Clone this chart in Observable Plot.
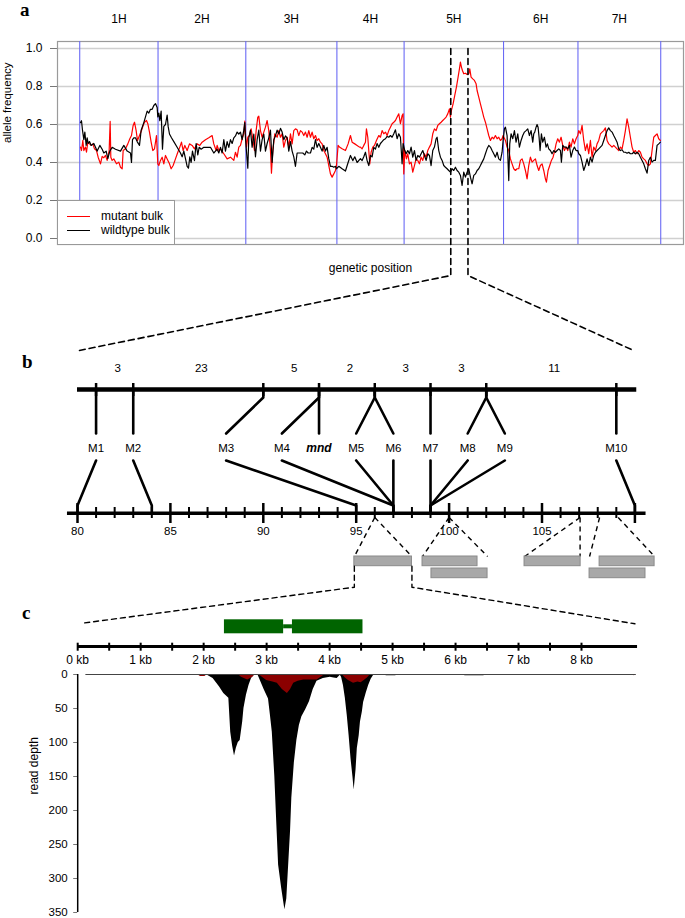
<!DOCTYPE html>
<html><head><meta charset="utf-8">
<script src="https://cdn.jsdelivr.net/npm/d3@7"></script>
<script src="https://cdn.jsdelivr.net/npm/@observablehq/plot@0.6"></script>
<style>
body{margin:0;background:#fff;}
#fig{position:relative;width:685px;height:918px;font-family:"Liberation Sans",Arial,sans-serif;color:#000;overflow:hidden;}
#fig svg{position:absolute;left:0;overflow:visible;}
.plab{position:absolute;font-family:"Liberation Serif","DejaVu Serif",serif;font-weight:bold;font-size:19px;line-height:19px;}
#legend{position:absolute;left:57px;top:200px;width:118px;height:45px;border:1px solid #999;background:#fff;box-sizing:border-box;font-size:12px;}
#legend .sw{position:absolute;left:9px;width:23px;height:0;}
#legend .lt{position:absolute;left:43px;line-height:14px;white-space:nowrap;}
#fig g[aria-label="y-axis tick"] path,#fig g[aria-label="y-axis"] line{stroke:#777;}
</style></head><body><div id="fig"></div>
<script>
// ---------- panel a data ----------
const chromNames = ["1H","2H","3H","4H","5H","6H","7H"];
const chromLengths = [141,158,164,121,179,134,149]; // cM
const freqTicks = [0,0.2,0.4,0.6,0.8,1.0];
const mutantBulk = [
[1.4,.481],[3.2,.463],[5.6,.516],[7.4,.463],[10.4,.481],[12.2,.454],[14.6,.507],[17.6,.498],[20.6,.490],[23.6,.498],[26.6,.472],[30.2,.463],[33.2,.428],[37.4,.393],[40.4,.432],[43.4,.425],[46.4,.437],[49.4,.411],[53.0,.463],[54.8,.616],[56.0,.428],[58.4,.411],[61.4,.419],[66.2,.393],[70.4,.402],[73.4,.375],[76.4,.367],[78.2,.463],[82.4,.472],[86.6,.498],[90.2,.525],[93.2,.542],[96.2,.595],[98.6,.612],[101.6,.568],[104.0,.516],[107.6,.542],[111.2,.568],[114.2,.595],[116.6,.612],[120.2,.621],[122.6,.604],[125.6,.560],[128.6,.507],[131.6,.463],[134.6,.472],[138.2,.542],[140.6,.393],
[142.4,.384],[145.4,.411],[148.4,.428],[151.4,.393],[154.4,.437],[157.4,.419],[161.6,.393],[164.6,.367],[168.2,.384],[172.4,.419],[176.6,.454],[180.2,.481],[183.2,.507],[186.2,.463],[189.2,.490],[193.4,.463],[197.6,.498],[202.4,.490],[206.6,.472],[211.4,.498],[216.2,.490],[220.4,.507],[226.4,.520],[232.4,.530],[238.4,.542],[241.4,.498],[245.6,.463],[247.4,.490],[250.4,.463],[253.4,.472],[259.4,.446],[265.4,.419],[271.4,.428],[277.4,.411],[280.4,.454],[283.4,.428],[286.4,.481],[289.4,.490],[292.4,.525],[295.4,.551],[297.2,.618],[298.4,.551],
[300.2,.481],[302.6,.533],[305.6,.542],[308.6,.577],[311.6,.525],[314.6,.463],[317.6,.568],[320.6,.639],[322.4,.644],[325.4,.568],[328.4,.533],[331.4,.560],[334.4,.586],[337.4,.621],[340.4,.568],[343.4,.463],[345.2,.344],[347.6,.463],[351.2,.551],[355.4,.533],[358.4,.568],[361.4,.533],[364.4,.551],[367.4,.481],[370.4,.516],[373.4,.533],[376.4,.481],[379.4,.551],[382.4,.498],[385.4,.568],[388.4,.577],[391.4,.572],[394.4,.542],[397.4,.568],[400.4,.560],[403.4,.542],[406.4,.560],[409.4,.533],[412.4,.568],[415.4,.533],[418.4,.560],[421.4,.525],[424.4,.542],[427.4,.516],[430.4,.525],[433.4,.507],[436.4,.498],[439.4,.463],[442.4,.446],[445.4,.428],[448.4,.384],[451.4,.340],[454.4,.323],[457.4,.340],[460.4,.358],[462.2,.384],
[465.2,.490],[467.6,.481],[472.4,.472],[478.4,.463],[483.2,.498],[487.4,.542],[490.4,.507],[495.2,.498],[499.4,.490],[503.6,.481],[505.4,.481],[508.4,.472],[511.4,.490],[514.4,.507],[516.2,.577],[518.6,.533],[520.4,.463],[522.2,.393],[524.6,.454],[527.6,.481],[530.6,.490],[534.2,.516],[538.4,.542],[541.4,.533],[544.4,.568],[547.4,.551],[550.4,.560],[553.4,.542],[556.4,.568],[559.4,.586],[562.4,.604],[565.4,.612],[568.4,.621],[571.4,.639],[574.4,.656],[577.4,.604],[580.4,.647],[582.2,.656],[583.4,.340],
[585.2,.463],[588.2,.419],[590.6,.446],[593.6,.393],[596.6,.402],[599.6,.349],[602.6,.384],[605.6,.419],[608.6,.411],[611.6,.393],[614.6,.428],[617.6,.411],[620.6,.446],[623.6,.428],[626.6,.463],[629.6,.481],[632.6,.498],[635.6,.551],[638.6,.577],[641.6,.568],[644.6,.595],[647.6,.604],[650.6,.612],[653.6,.621],[656.6,.630],[659.6,.639],[662.6,.656],[665.6,.682],[667.4,.639],[669.2,.674],[672.2,.709],[675.2,.753],[678.2,.797],[681.2,.849],[683.6,.893],[685.4,.928],[687.2,.902],[689.0,.884],[691.4,.867],[694.4,.870],[697.4,.863],[700.4,.867],[702.2,.893],[704.6,.849],[707.6,.840],[710.6,.832],[713.6,.814],[715.4,.779],[718.4,.744],[721.4,.709],[724.4,.674],[727.4,.639],[730.4,.612],[733.4,.577],[736.4,.542],[739.4,.516],[742.4,.533],[745.4,.525],[748.4,.542],[751.4,.525],[754.4,.533],[757.4,.516],[760.4,.525],[762.2,.542],
[766.4,.516],[769.4,.481],[772.4,.463],[775.4,.419],[778.4,.393],[781.4,.367],[784.4,.358],[787.4,.367],[790.4,.367],[793.4,.411],[796.4,.419],[799.4,.393],[802.4,.358],[805.4,.314],[808.4,.384],[811.4,.428],[814.4,.402],[817.4,.411],[820.4,.419],[823.4,.384],[826.4,.358],[829.4,.384],[832.4,.393],[835.4,.358],[838.4,.314],[840.2,.297],[843.2,.358],[846.2,.384],[849.2,.411],[852.2,.428],[855.2,.463],[857.6,.498],[860.6,.525],[863.6,.507],[866.6,.533],[869.6,.490],[872.6,.463],[875.6,.481],[878.6,.463],[881.6,.507],[884.6,.481],[887.6,.525],[890.6,.498],[893.6,.525],[896.6,.542],
[898.4,.568],[901.4,.551],[904.4,.595],[907.4,.516],[910.4,.463],[913.4,.498],[916.4,.446],[919.4,.516],[922.4,.428],[925.4,.481],[928.4,.463],[931.4,.498],[934.4,.516],[937.4,.551],[940.4,.560],[943.4,.568],[946.4,.582],[949.4,.516],[952.4,.498],[955.4,.490],[958.4,.481],[961.4,.490],[964.4,.481],[967.4,.472],[970.4,.463],[973.4,.481],[976.4,.472],[979.4,.516],[982.4,.568],[985.4,.630],[988.4,.586],[991.4,.533],[994.4,.481],[997.4,.454],[1000.4,.463],[1003.4,.446],[1006.4,.463],[1009.4,.454],[1012.4,.428],[1015.4,.419],[1018.4,.411],[1021.4,.393],[1024.4,.384],[1027.4,.393],[1030.4,.463],[1033.4,.533],[1036.4,.542],[1039.4,.551],[1042.4,.525],[1045.4,.516]
];
const wildtypeBulk = [
[1.4,.61],[3.2,.62],[5.0,.57],[7.4,.52],[9.2,.56],[11.6,.49],[13.4,.53],[15.2,.50],[17.6,.51],[20.6,.49],[25.4,.50],[28.4,.48],[31.4,.46],[36.2,.49],[40.4,.47],[43.4,.45],[47.6,.46],[50.6,.42],[54.2,.46],[58.4,.48],[64.4,.47],[73.4,.46],[79.4,.49],[85.4,.46],[91.4,.45],[93.2,.40],[95.0,.52],[97.4,.53],[100.4,.53],[103.4,.51],[107.6,.49],[110.6,.57],[115.4,.61],[118.4,.64],[121.4,.67],[124.4,.66],[127.4,.68],[130.4,.68],[133.4,.70],[136.4,.71],[139.4,.69],[140.6,.64],
[142.4,.66],[144.2,.62],[146.6,.67],[149.0,.47],[151.4,.59],[154.4,.60],[157.4,.65],[159.2,.59],[161.6,.55],[165.2,.53],[169.4,.51],[175.4,.48],[181.4,.45],[184.4,.43],[187.4,.46],[190.4,.42],[193.4,.38],[195.8,.37],[198.2,.43],[200.6,.40],[203.0,.46],[206.6,.41],[209.6,.50],[212.6,.44],[215.0,.48],[218.6,.47],[223.4,.48],[235.4,.48],[241.4,.45],
[244.4,.46],[247.4,.47],[250.4,.45],[253.4,.48],[256.4,.45],[259.4,.52],[262.4,.46],[265.4,.51],[268.4,.48],[271.4,.52],[274.4,.50],[277.4,.53],[280.4,.54],[283.4,.56],[286.4,.55],[289.4,.56],[292.4,.52],[295.4,.57],[297.2,.61],[298.4,.53],
[300.2,.46],[302.6,.37],[304.4,.53],[307.4,.57],[310.4,.48],[313.4,.55],[316.4,.43],[319.4,.52],[322.4,.57],[325.4,.46],[328.4,.52],[331.4,.55],[334.4,.46],[337.4,.50],[340.4,.53],[343.4,.57],[346.4,.40],[349.4,.52],[352.4,.54],[355.4,.57],[358.4,.55],[361.4,.58],[364.4,.56],[367.4,.52],[370.4,.54],[373.4,.53],[376.4,.46],[379.4,.51],[382.4,.46],[385.4,.43],[388.4,.38],[391.4,.45],[394.4,.45],[397.4,.45],[401.6,.45],[405.2,.44],[408.2,.46],[411.2,.45],[415.4,.45],[418.4,.48],[421.4,.47],[424.4,.52],[427.4,.48],[430.4,.50],[433.4,.48],[436.4,.46],[439.4,.49],[442.4,.46],[445.4,.48],[448.4,.42],[451.4,.38],[454.4,.38],[457.4,.375],[460.4,.38],[462.2,.367],
[466.4,.38],[472.4,.367],[478.4,.355],[483.2,.40],[487.4,.437],[491.6,.41],[495.2,.43],[499.4,.40],[505.4,.42],[508.4,.41],[511.4,.43],[514.4,.454],[517.4,.41],[520.4,.384],[523.4,.437],[526.4,.43],[529.4,.48],[532.4,.47],[535.4,.50],[538.4,.48],[541.4,.50],[544.4,.51],[547.4,.52],[550.4,.525],[553.4,.537],[556.4,.533],[559.4,.542],[562.4,.533],[565.4,.551],[568.4,.572],[571.4,.525],[574.4,.551],[577.4,.533],[580.4,.393],[582.2,.50],
[585.2,.463],[587.6,.446],[590.6,.463],[593.6,.446],[596.6,.481],[599.6,.428],[602.6,.463],[605.6,.411],[608.6,.437],[611.6,.428],[614.6,.446],[617.6,.463],[620.6,.437],[623.6,.411],[626.6,.446],[629.6,.437],[632.6,.384],[635.6,.463],[638.6,.481],[641.6,.525],[643.4,.533],[646.4,.463],[649.4,.428],[652.4,.411],[655.4,.384],[658.4,.375],[661.4,.367],[664.4,.358],[667.4,.349],[670.4,.367],[673.4,.358],[676.4,.375],[679.4,.358],[682.4,.349],[685.4,.332],[688.4,.279],[691.4,.349],[694.4,.323],[697.4,.349],[700.4,.367],[703.4,.323],[706.4,.288],[709.4,.332],[712.4,.340],[715.4,.358],[718.4,.367],[721.4,.384],[724.4,.402],[727.4,.419],[730.4,.446],[733.4,.472],[736.4,.490],[739.4,.481],[742.4,.463],[745.4,.446],[748.4,.428],[751.4,.454],[754.4,.419],[757.4,.411],[760.4,.454],[762.2,.516],
[764.6,.577],[766.4,.586],[769.4,.542],[772.4,.305],[774.2,.498],[776.6,.551],[779.6,.525],[782.6,.568],[785.6,.507],[788.6,.551],[791.6,.481],[794.6,.516],[797.6,.542],[800.6,.560],[803.6,.568],[806.6,.577],[809.6,.542],[812.6,.568],[815.6,.507],[817.4,.551],[819.2,.560],[821.6,.586],[823.4,.600],[825.2,.586],[827.0,.533],[828.8,.463],[831.2,.551],[833.6,.507],[836.6,.533],[839.6,.481],[842.0,.498],[844.4,.472],[847.4,.463],[850.4,.446],[853.4,.463],[856.4,.454],[859.4,.463],[862.4,.472],[865.4,.463],[867.2,.402],[869.6,.490],[872.6,.481],[875.6,.481],[878.6,.472],[881.6,.490],[884.6,.428],[887.6,.463],[890.6,.481],[893.6,.463],[896.6,.463],
[898.4,.446],[901.4,.437],[904.4,.402],[907.4,.358],[910.4,.384],[913.4,.419],[916.4,.384],[919.4,.428],[922.4,.402],[925.4,.437],[928.4,.454],[931.4,.463],[934.4,.472],[937.4,.481],[940.4,.490],[943.4,.516],[946.4,.542],[949.4,.568],[952.4,.582],[955.4,.568],[958.4,.560],[961.4,.542],[964.4,.525],[967.4,.507],[970.4,.472],[973.4,.463],[976.4,.467],[979.4,.454],[982.4,.454],[985.4,.449],[988.4,.454],[991.4,.446],[994.4,.446],[997.4,.454],[1000.4,.446],[1003.4,.454],[1006.4,.446],[1009.4,.428],[1012.4,.411],[1015.4,.393],[1018.4,.367],[1021.4,.344],[1024.4,.411],[1027.4,.428],[1030.4,.402],[1033.4,.411],[1036.4,.411],[1039.4,.490],[1042.4,.498],[1045.4,.507]
];
const zoomInterval = [668, 699]; // genome cM of dashed region on 5H

// ---------- panel b data ----------
const recombCounts = [3,23,5,2,3,3,11];
const topBarLoci = [81,83,90,93,96,99,102,109];
const markerNames = ["M1","M2","M3","M4","mnd","M5","M6","M7","M8","M9","M10"];
const markerLabelPos = [81,83,88,91,93,95,97,99,101,103,109];
const markerTopPos   = [81,83,90,93,93,96,96,99,102,102,109];
const markerMapPos   = [80,84,95,97,null,97,97,99,99,99,110]; // cM
const mapTickLabels = [80,85,90,95,100,105];
const bacClones = [
  {x1:94.9, x2:98.0, row:0}, {x1:98.57, x2:101.53, row:0}, {x1:104.06, x2:107.08, row:0},
  {x1:108.1, x2:111.06, row:0}, {x1:99.05, x2:102.07, row:1}, {x1:107.56, x2:110.57, row:1}
];
const cloneLinks = [[96,94.9],[96,98.0],[100,98.57],[100,102.07],[107.05,104.06],[107.05,107.05],[108.1,107.56],[109.1,111.06]];

// ---------- panel c data ----------
const kbTicks = [0,1,2,3,4,5,6,7,8];
const geneExons = [[2.33,3.27],[3.41,4.53]];
const geneIntron = [3.27,3.41];
const depthTotal = [
[0.13,0],[2.0,0],[2.06,1],[2.15,6],[2.25,18],[2.32,28],[2.40,35],[2.43,85],[2.46,105],[2.49,120],[2.52,108],[2.55,100],[2.58,97],[2.62,70],[2.64,50],[2.68,30],[2.72,16],[2.76,6],[2.80,1.5],[2.83,0],[2.86,0],[2.90,9],[2.96,22],[3.03,36],[3.06,60],[3.09,85],[3.13,150],[3.16,216],[3.19,280],[3.24,315],[3.29,346],[3.32,330],[3.35,280],[3.38,230],[3.40,182],[3.44,130],[3.48,97],[3.52,75],[3.56,62],[3.62,52],[3.68,40],[3.74,22],[3.80,10],[3.90,6],[4.01,4],[4.07,5],[4.12,6],[4.17,1],[4.19,4],[4.22,16],[4.25,35],[4.28,60],[4.31,90],[4.34,124],[4.37,150],[4.39,170],[4.42,140],[4.44,109],[4.47,90],[4.49,70],[4.52,55],[4.54,41],[4.58,28],[4.62,16],[4.66,7],[4.70,1],[4.75,0],[4.88,0],[4.9,2],[5.05,2],[5.08,0],[6.12,0],[6.15,2],[6.45,2],[6.48,0],[8.87,0]
];
const depthMutant = [
[0.13,0],[1.9,0],[1.95,3],[2.02,3],[2.06,0],[2.55,0],[2.6,4],[2.7,8],[2.78,4],[2.82,0],[2.9,2],[3.0,9],[3.1,11],[3.17,13],[3.25,22],[3.33,28],[3.38,22],[3.43,13],[3.5,10],[3.59,8],[3.7,8],[3.8,8],[3.9,2],[3.95,0],[4.2,0],[4.25,5],[4.3,9],[4.38,13],[4.45,11],[4.5,12],[4.55,9],[4.6,5],[4.65,0],[8.8,0],[8.84,2],[8.87,0]
];
const depthTicks = [0,50,100,150,200,250,300,350];

// ---------- layout ----------
const font = '"Liberation Sans", Arial, sans-serif';
const baseStyle = {background:"transparent", overflow:"visible", fontFamily:font, fontSize:"12px", color:"#000"};
const fig = document.getElementById("fig");
function place(el, top){ el.style.position="absolute"; el.style.top=top+"px"; el.style.left="0px"; fig.appendChild(el); }

// panel a
const bounds = d3.cumsum([0, ...chromLengths]);
const chromMid = chromNames.map((n,i)=>({name:n, x: bounds[i] + chromLengths[i]/2}));
const connA = [
  {x:zoomInterval[0], y:1.0, z:"l"}, {x:zoomInterval[0], y:-0.195, z:"l"}, {x:-0.4, y:-0.589, z:"l"},
  {x:zoomInterval[1], y:1.0, z:"r"}, {x:zoomInterval[1], y:-0.195, z:"r"}, {x:993, y:-0.584, z:"r"}
];
const A = Plot.plot({
  width:685, height:350, marginTop:41, marginBottom:106, marginLeft:57, marginRight:2,
  style: baseStyle,
  x:{domain:[-40,1087], range:[57,683], axis:null},
  y:{domain:[0,1], range:[238,48], ticks:freqTicks, tickFormat:".1f", tickSize:7, tickPadding:8, label:null},
  marks:[
    Plot.ruleY(freqTicks, {stroke:"#d0d0d0", strokeWidth:1.3}),
    Plot.frame({stroke:"#9a9a9a", strokeWidth:1.2}),
    Plot.ruleX(bounds, {stroke:"#6a6af5", strokeWidth:1.1}),
    Plot.line(mutantBulk, {x:d=>d[0], y:d=>d[1], stroke:"#ff0000", strokeWidth:1.2}),
    Plot.line(wildtypeBulk, {x:d=>d[0], y:d=>d[1], stroke:"#000", strokeWidth:1.2}),
    Plot.line(connA, {x:"x", y:"y", z:"z", stroke:"#000", strokeWidth:1.6, strokeDasharray:"6,4"}),
    Plot.text(chromMid, {x:"x", y:1.153, text:"name", fontSize:12, lineAnchor:"middle"}),
    Plot.text(["genetic position"], {x:523.5, y:-0.158, fontSize:12, lineAnchor:"middle"}),
    Plot.text(["allele frequency"], {frameAnchor:"left", rotate:-90, dx:-50, fontSize:11.5})
  ]
});
place(A, 0);

// legend (HTML overlay)
const leg = document.createElement("div");
leg.id = "legend";
leg.innerHTML = '<div class="sw" style="top:14.5px;border-top:1.5px solid #ff0000"></div><div class="lt" style="top:7.5px">mutant bulk</div>' +
                '<div class="sw" style="top:28.5px;border-top:1.5px solid #000"></div><div class="lt" style="top:21.5px">wildtype bulk</div>';
fig.appendChild(leg);

// panel b
const Lb = {counts:18, topBar:39, tickTop:33, tickBot:46, step:47, linkTop:83, label:97.7, linkBot:110,
            mapLink:155, mapBar:162.7, majTop:153, majBot:173, minTop:157, minBot:168, tickLab:180.7,
            dashTop:167, rowTop:[206,218], rowH:9.7, dropEnd:236.7, diagEnd:272.7};
const topLinks = [], botLinks = [];
markerNames.forEach((m,i)=>{
  topLinks.push({x:markerTopPos[i], y:Lb.topBar, z:m}, {x:markerTopPos[i], y:Lb.step, z:m}, {x:markerLabelPos[i], y:Lb.linkTop, z:m});
  if (markerMapPos[i] != null)
    botLinks.push({x:markerLabelPos[i], y:Lb.linkBot, z:m}, {x:markerMapPos[i], y:Lb.mapLink, z:m}, {x:markerMapPos[i], y:Lb.mapBar, z:m});
});
const countPos = recombCounts.map((c,i)=>({c, x:(topBarLoci[i]+topBarLoci[i+1])/2}));
const cmTicks = d3.range(80,111);
const dropLines = [
  {x:bacClones[0].x1, y:Lb.rowTop[0]+Lb.rowH, z:"l"}, {x:bacClones[0].x1, y:Lb.dropEnd, z:"l"}, {x:80.25, y:Lb.diagEnd, z:"l"},
  {x:bacClones[0].x2, y:Lb.rowTop[0]+Lb.rowH, z:"r"}, {x:bacClones[0].x2, y:Lb.dropEnd, z:"r"}, {x:110, y:Lb.diagEnd+0.6, z:"r"}
];
const B = Plot.plot({
  width:685, height:240, margin:0,
  style: baseStyle,
  x:{domain:[80,110], range:[77,634.4], axis:null},
  y:{domain:[0,240], range:[0,240], axis:null},
  marks:[
    Plot.text(countPos, {x:"x", y:Lb.counts, text:"c", dx:3, fontSize:11.5, lineAnchor:"middle"}),
    Plot.ruleY([Lb.topBar], {x1:80, x2:110.1, strokeWidth:4.5}),
    Plot.ruleX(topBarLoci, {y1:Lb.tickTop, y2:Lb.tickBot, strokeWidth:2.5}),
    Plot.line(topLinks, {x:"x", y:"y", z:"z", strokeWidth:2.6}),
    Plot.text(markerNames.map((m,i)=>({m,x:markerLabelPos[i]})).filter(d=>d.m!=="mnd"), {x:"x", y:Lb.label, text:"m", fontSize:11.5, lineAnchor:"middle"}),
    Plot.text([{m:"mnd", x:markerLabelPos[4]}], {x:"x", y:Lb.label, text:"m", fontSize:12, fontWeight:"bold", fontStyle:"italic", lineAnchor:"middle"}),
    Plot.line(botLinks, {x:"x", y:"y", z:"z", strokeWidth:2.6}),
    Plot.ruleY([Lb.mapBar], {x1:79.46, x2:110.6, strokeWidth:3.5}),
    Plot.ruleX(cmTicks.filter(d=>d%5===0), {y1:Lb.majTop, y2:Lb.majBot, strokeWidth:2.5}),
    Plot.ruleX(cmTicks.filter(d=>d%5!==0), {y1:Lb.minTop, y2:Lb.minBot, strokeWidth:2}),
    Plot.text(mapTickLabels, {x:d=>d, y:Lb.tickLab, text:d=>String(d), fontSize:11.5, lineAnchor:"middle"}),
    Plot.link(cloneLinks, {x1:d=>d[0], x2:d=>d[1], y1:Lb.dashTop, y2:Lb.rowTop[0], stroke:"#000", strokeWidth:1.4, strokeDasharray:"5,4"}),
    Plot.rect(bacClones, {x1:"x1", x2:"x2", y1:d=>Lb.rowTop[d.row], y2:d=>Lb.rowTop[d.row]+Lb.rowH, fill:"#a8a8a8", stroke:"#8a8a8a", strokeWidth:1}),
    Plot.line(dropLines, {x:"x", y:"y", z:"z", stroke:"#000", strokeWidth:1.4, strokeDasharray:"5,4"})
  ]
});
place(B, 350);

// panel c (gene model + kb axis)
const Lc = {exTop:29.3, exBot:43.3, inTop:34.3, inBot:38.3, bar:56, tTop:52.7, tBot:60.7, lab:70};
const C1 = Plot.plot({
  width:685, height:80, margin:0,
  style: baseStyle,
  x:{domain:[0,8], range:[77.2,581], axis:null},
  y:{domain:[0,80], range:[0,80], axis:null},
  marks:[
    Plot.rect(geneExons, {x1:d=>d[0], x2:d=>d[1], y1:Lc.exTop, y2:Lc.exBot, fill:"#006400"}),
    Plot.rect([geneIntron], {x1:d=>d[0], x2:d=>d[1], y1:Lc.inTop, y2:Lc.inBot, fill:"#006400"}),
    Plot.ruleY([Lc.bar], {x1:0, x2:8.89, strokeWidth:3}),
    Plot.ruleX(d3.range(0,8.01,0.5), {y1:Lc.tTop, y2:Lc.tBot, strokeWidth:2}),
    Plot.text(kbTicks, {x:d=>d, y:Lc.lab, text:d=>d+" kb", fontSize:12, lineAnchor:"middle"})
  ]
});
place(C1, 590);

// panel c (read depth)
const C2 = Plot.plot({
  width:685, height:248, marginTop:0, marginBottom:0, marginLeft:77.2, marginRight:0,
  style: {...baseStyle, fontSize:"11.5px"},
  x:{domain:[0,8], range:[77.2,581], axis:null},
  y:{domain:[0,350], range:[4,242], ticks:depthTicks, tickSize:4, tickPadding:6, label:null},
  marks:[
    Plot.areaY(depthTotal, {x:d=>d[0], y:d=>d[1], fill:"#000"}),
    Plot.areaY(depthMutant, {x:d=>d[0], y:d=>d[1], fill:"#8b0000"}),
    Plot.ruleY([0], {x1:0.13, x2:8.87, stroke:"#444", strokeWidth:1}),
    Plot.ruleX([0], {y1:0, y2:350, strokeWidth:1.5}),
    Plot.text(["read depth"], {frameAnchor:"left", rotate:-90, dx:-44, fontSize:12})
  ]
});
place(C2, 670);

// panel letters
[["a",20,0],["b",22,352],["c",22,603]].forEach(([t,x,y])=>{
  const d=document.createElement("div"); d.className="plab"; d.textContent=t;
  d.style.left=x+"px"; d.style.top=y+"px"; fig.appendChild(d);
});
</script></body></html>
